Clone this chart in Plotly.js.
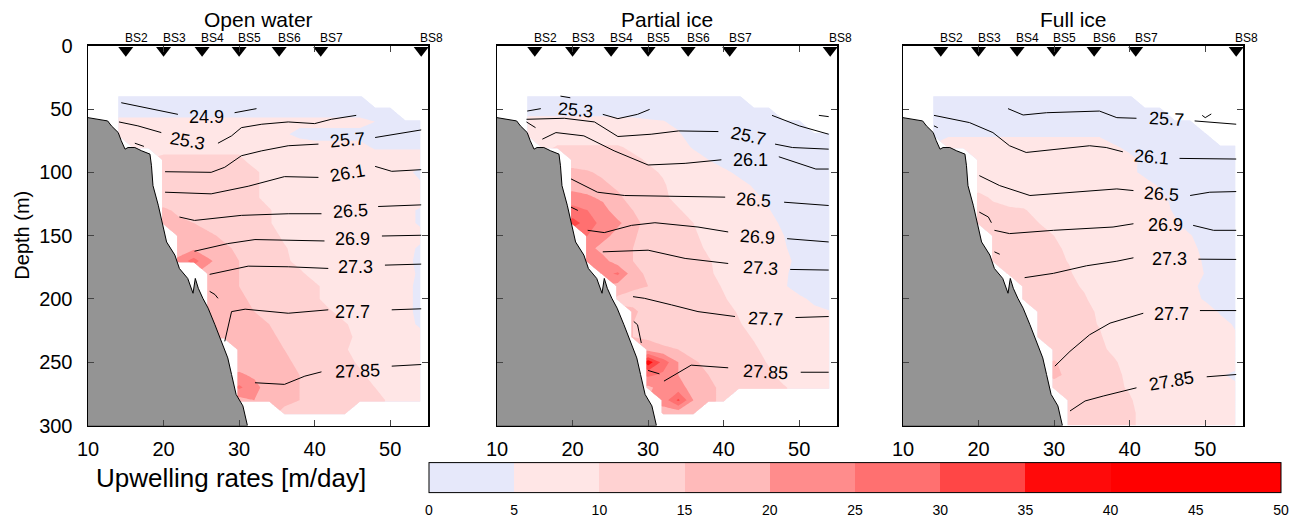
<!DOCTYPE html>
<html><head><meta charset="utf-8">
<script src="https://cdn.plot.ly/plotly-3.0.1.min.js"></script>
<style>html,body{margin:0;padding:0;background:#fff}#chart{width:1297px;height:520px}</style>
</head><body><div id="chart"></div><script>
const N = null;
const panelTitles = ['Open water', 'Partial ice', 'Full ice'];
const stationNames = ['BS2','BS3','BS4','BS5','BS6','BS7','BS8'];
const stationX = [15, 20, 25.1, 30, 35.3, 40.8, 54.1];
const levelTicks = [0,5,10,15,20,25,30,35,40,45,50];
const levelColors = ['rgb(230,232,250)','rgb(255,230,230)','rgb(255,210,210)','rgb(255,186,186)','rgb(255,140,140)','rgb(255,112,112)','rgb(255,70,70)','rgb(255,10,10)','rgb(255,0,0)','rgb(255,0,0)'];
const xGrid = [14,16,18,20,22,24,26,28,30,32,34,36,38,40,42,44,46,48,50,52,54];
const depthGrid = [40,50,60,70,80,90,100,110,120,130,140,150,160,170,180,190,200,210,220,230,240,250,260,270,280,290,300];

const upOpen = [
[3,3,3,3,3,3,3,3,3,3,3,3,3,3,3,3,3,N,N,N,N],
[3,3,3,3,3,3,3,3,3,3,3,3,3,3,3,3,3,3,3,N,N],
[6,6,6,6,6,6,6,6,6,6,6,6,6,6,6,6,6,5,3,3,3],
[7,7,7,7,7,7,7,7,7,7,7,5.5,4,4,4,4,4,3.5,3.5,3.5,3.5],
[N,7,8.5,8.5,8.5,8.5,8.5,8.5,8.5,7,7,7,7,6,6,6,6,4.5,4.5,4.5,4.5],
[N,N,N,11,11,11,11,11,11,8,7,7,7,7,7,7,7,7,7,7,7],
[N,N,N,12,12,12,12,12,12,11,8,7,7,7,7,7,7,7,7,6,4],
[N,N,N,14,12,12,12,12,12,11,8,7,7,7,7,7,7,7,7,6,5.5],
[N,N,N,12,12,12,12,12,12,11,8,7,7,7,7,7,7,7,7,7,7],
[N,N,N,16,14,12,12,12,12,12,10.5,7,7,7,7,7,7,7,7,6,4.5],
[N,N,N,16,16,15,13,12,12,12,10.5,7,7,7,7,7,7,7,7,6,4.5],
[N,N,N,N,17,17,16,14,12,12,12,9,7,7,7,7,7,7,7,7,6],
[N,N,N,N,16,19,16,16,14,12,12,10.5,8,7,7,7,7,7,7,6,4.5],
[N,N,N,N,22,27,21,17,15,12,12,11,8.5,7,7,7,7,7,7,6,4],
[N,N,N,N,N,N,17,16,15,13,12,12,11,8,7,7,7,7,7,6,4.5],
[N,N,N,N,N,N,17,16,15,13,12,12,12,11,8,7,7,7,7,6,4],
[N,N,N,N,N,N,16,16,16,14,12,12,12,11,8,7,7,7,7,6,4],
[N,N,N,N,N,N,17,16,16,15,13,12,12,12,10.5,8,7,7,7,6,4],
[N,N,N,N,N,N,16,17,17,16,15,13,12,12,12,10.5,8,7,7,6,4.5],
[N,N,N,N,N,N,16,17,17,17,16,14,12,12,12,11,9,7,7,7,6],
[N,N,N,N,N,N,N,N,16,17,17,15,13,12,12,10.5,8,7,7,7,7],
[N,N,N,N,N,N,N,N,17,18,17,16,14,12,12,12,9,7,7,7,7],
[N,N,N,N,N,N,N,N,21,19,17,16,15,13,12,12,11,8,7,7,7],
[N,N,N,N,N,N,N,N,26,22,17,16,15,14,12,12,12,10,8,7,7],
[N,N,N,N,N,N,N,N,18,20,17,16,15,14,12,12,12,11,9.5,7,7],
[N,N,N,N,N,N,N,N,N,N,N,14,13,12,11,11,N,N,N,N,N],
[N,N,N,N,N,N,N,N,N,N,N,N,N,N,N,N,N,N,N,N,N]
];

const upPartial = [
[3,3,3,3,3,3,3,3,3,3,3,3,3,3,3,N,N,N,N,N,N],
[3,3,3,3,3,3,3,3,3,3,3,3,3,3,3,3,3,N,N,N,N],
[6.5,6.5,6.5,6.5,6.5,6.5,6,6,5.5,5.2,4,3,3,3,3,3,3,3,3,N,N],
[7,7,7,7,7,7,7,7,7,7,5.5,3,3,3,3,3,3,3,3,3,3],
[N,8,10.5,10.5,10.5,10.5,10.5,9,7,7,7,4.5,3,3,3,3,3,3,3,3,3],
[N,N,N,13,12,12,12,11,9.5,7,7,7,5,3,3,3,3,3,3,3,3],
[N,N,N,16,15.5,14,12,12,11,9.5,7,7,7,6,4,3,3,3,3,3,3],
[N,N,N,18,17,16,14,12,12,10.5,8,7,7,7,6.5,4.5,3,3,3,3,3],
[N,N,N,22,21,19,16,13,12,11,8.5,7,7,7,7,6,4,3,3,3,3],
[N,N,N,27,25,22,17,15,12,12,10.5,8,7,7,7,7,5.2,3,3,3,3],
[N,N,N,32,28,23,21,17,13,12,11,10,7,7,7,7,6.5,4,3,3,3],
[N,N,N,N,25,22,18,16,12,12,12,11,8,7,7,7,7,5,3,3,3],
[N,N,N,N,22,18,16,15,12,12,12,12,9,7,7,7,7,5.5,3,3,3],
[N,N,N,N,23,22,17,15,13,12,12,12,10.5,8,7,7,7,6,4,3,3],
[N,N,N,N,N,23,26,17,14,12,12,12,11,8,7,7,7,5.8,3,3,3],
[N,N,N,N,N,N,18,16,15,12,12,12,12,9.5,7,7,7,5.5,3,3,3],
[N,N,N,N,N,N,14,13,12,12,12,12,12,10.5,8,7,7,7,6,4,3],
[N,N,N,N,N,N,N,16,13,12,12,12,12,12,9.5,7,7,7,7,6,5.2],
[N,N,N,N,N,N,N,15,13,12,12,12,12,12,10.5,8,7,7,7,7,7],
[N,N,N,N,N,N,N,15,14,13,12,12,12,12,12,9.5,7,7,7,7,7],
[N,N,N,N,N,N,N,N,18,16,15,12,12,12,12,11,8,7,7,7,7],
[N,N,N,N,N,N,N,N,38,28,20,16,13,12,12,12,9.5,7,7,7,7],
[N,N,N,N,N,N,N,N,26,24,20,17,15,12,12,12,11,8,7,7,7],
[N,N,N,N,N,N,N,N,19,22,22,18,16,14,12,12,12,10.5,8,7,7],
[N,N,N,N,N,N,N,N,N,22,31,20,16,14,N,N,N,N,N,N,N],
[N,N,N,N,N,N,N,N,N,18,17,16,N,N,N,N,N,N,N,N,N],
[N,N,N,N,N,N,N,N,N,N,N,N,N,N,N,N,N,N,N,N,N]
];

const upFull = [
[3,3,3,3,3,3,3,3,3,3,3,3,3,3,N,N,N,N,N,N,N],
[3,3,3,3,3,3,3,3,3,3,3,3,3,3,3,3,N,N,N,N,N],
[3,3,3,3,3,3,3,3,3,3,3,3,3,3,3,3,3,3,N,N,N],
[3,4.5,4.5,4.5,4.5,4.5,4.5,4.5,4.5,4.5,4.5,4.5,3,3,3,3,3,3,3,N,N],
[N,7,7,7,7,7,7,7,7,7,7,7,5.5,4,3,3,3,3,3,3,3],
[N,N,N,7,7,7,7,7,7,7,7,7,7,6,4,3,3,3,3,3,3],
[N,N,N,7,7,7,7,7,7,7,7,7,7,6,4,3,3,3,3,3,3],
[N,N,N,8.5,7.5,7,7,7,7,7,7,7,7,7,6.5,4.5,3,3,3,3,3],
[N,N,N,11,9.5,7.5,7,7,7,7,7,7,7,7,7,6,4,3,3,3,3],
[N,N,N,11,11,11,10.5,8,7,7,7,7,7,7,7,6.5,4.5,3,3,3,3],
[N,N,N,12,12,11,11,10,7,7,7,7,7,7,7,7,5.5,3,3,3,3],
[N,N,N,N,12,12,12,11,10,7.5,7,7,7,7,7,7,7,5.3,3,3,3],
[N,N,N,N,12,12,12,12,11,9,7,7,7,7,7,7,7,6,4,3,3],
[N,N,N,N,12,12,12,12,11,9.8,7,7,7,7,7,7,7,6.5,4.5,3,3],
[N,N,N,N,N,12,12,12,12,10.5,8,7,7,7,7,7,7,7,4.8,3,3],
[N,N,N,N,N,N,12,12,12,11,9.5,7,7,7,7,7,7,6,4,3,3],
[N,N,N,N,N,N,12,12,12,12,10.5,8,7,7,7,7,7,6.5,4.5,3,3],
[N,N,N,N,N,N,N,12,12,12,11,9.5,7,7,7,7,7,7,7,4.5,3],
[N,N,N,N,N,N,N,12,12,12,11,9.8,7,7,7,7,7,7,7,6.5,4.5],
[N,N,N,N,N,N,N,12,12,12,12,10.5,8,7,7,7,7,7,7,7,5.5],
[N,N,N,N,N,N,N,N,12,12,12,11,9,7,7,7,7,7,7,7,7],
[N,N,N,N,N,N,N,N,15.5,13,12,12,10.5,8,7,7,7,7,7,7,7],
[N,N,N,N,N,N,N,N,16,14,12,12,11,9,7,7,7,7,7,5.5,4],
[N,N,N,N,N,N,N,N,13,12,12,12,11,9.5,7,7,7,7,7,7,6],
[N,N,N,N,N,N,N,N,N,12,12,12,12,10.5,8,7,7,7,7,7,7],
[N,N,N,N,N,N,N,N,N,12,12,12,12,11,8.5,7,7,7,7,7,7],
[N,N,N,N,N,N,N,N,N,12,12,12,12,11,8.5,7,7,7,7,7,7]
];

const bathyX = [10,11.3,12.6,13.1,14,14.4,14.9,15.3,16.2,17.1,18.2,18.4,18.6,19.3,19.7,20.4,21.5,22.1,23.2,23.9,24.2,24.6,25.2,25.9,26.8,27.7,28.5,29,29.6,30.5,31.1,10];
const bathyD = [56.8,58,59.4,63.3,68.6,75,81.7,80.4,80.4,83,85.6,94.8,110.5,126,136.6,155,165.4,176,183.8,195.5,183.8,191.6,199.5,207.3,220.4,233.5,246.6,259.7,275.4,284.5,300,300];

// isopycnal lines (sigma-theta), pieces separated by null
const isoOpenX = [14.4,17.5,21.9,N,29.4,32.3,N, 14.1,16.6,19.7,N,27.2,29,30.3,33,36.5,40,42.2,45.5,N, 16.2,17.4,N,
 20.2,26.3,28.1,30.3,33,36.5,40.5,N,48,54.1,N, 20.2,26.3,31.2,36,40.5,N,48,50.2,54.1,N,
 22.1,24.1,30.3,36.5,40.9,N,48.4,54.1,N, 24.1,28.5,32.1,36.5,41.3,N,48.9,54.1,N,
 26.1,29,31.2,36.5,41.8,N,49.3,54.1,N, 26.1,26.8,27.2,N,
 28.1,28.5,29,30.8,36.5,41.8,N,50.2,54.1,N, 32.1,36,38.7,40.9,N,50.2,54.1];
const isoOpenD = [45,49,54.2,N,52.9,49.7,N, 60.2,63.3,68.6,N,77,71.2,64.7,62,60.2,61.5,58.1,55,N, 77,79.5,N,
 99.5,100,96,86.9,83,79,77.7,N,72.5,66.5,N, 115.7,117,111,103.4,104,N,95.3,99.2,97.9,N,
 135.3,138,134,132.7,132.7,N,127,125.7,N, 162.3,156.3,153.1,153.7,154.2,N,150.3,149.7,N,
 180.6,177.2,174.1,174.6,175.9,N,173.3,172.5,N, 194,196.5,199.5,N,
 233.5,223,210,208.1,211.3,208.6,N,208.6,207.8,N, 266.2,267.5,261,257.6,N,253.1,251.8];

const isoPartialX = [14,15.8,N,24,26,28.6,30.2,N,18.4,19.7,N,46.4,50,53.9,N,52.6,53.9,N,
 13.9,18.9,22.9,26,30.4,34,39.3,N,46.8,49.1,53.9,N,
 13.9,15.1,N,16,17.8,21.5,25.5,30,34.9,39.7,N,47.3,52.2,53.9,N,
 19.8,23.3,26.9,32.2,40.2,N,48,53.9,N,
 19.8,20.7,N,22,24.2,27.8,30.9,36.6,40.6,N,48.4,53.9,N,
 24,30,34.9,40.6,N,48.8,53.9,N,
 28,29.5,33.1,36.6,41.5,N,49.5,53.9,N,28.1,28.6,29.1,N,
 30,31.5,N,32.1,34,35.7,40.6,N,50.2,53.9];
const isoPartialD = [51.6,49.7,N,54.2,57.6,54.2,50.3,N,39.8,41.1,N,55,63.3,69.9,N,55,56,N,
 58.1,57.3,60.2,71.7,69.9,67.3,67.8,N,77.7,80.4,81.7,N,
 60.2,64.7,N,73.8,68.6,71.2,83,94.2,92.9,90.1,N,87.7,97.4,97.4,N,
 105.2,115.7,118.3,118.8,119.6,N,123.6,126.2,N,
 127.5,130.1,N,145.8,147.6,141.9,139.8,143.2,147.1,N,152.4,155,N,
 162.8,161.5,168,172,N,176.7,177.2,N,
 198.2,199.5,204.7,210,213.9,N,214.7,213.9,N,217.8,220.4,234.8,N,
 256.5,259.2,N,264.9,258.4,252.3,254.4,N,257.9,257.9];

const isoFullX = [23.9,25.9,29,36,38.3,40.9,N,48.6,54.1,N,49.6,50,50.8,N,
 14.1,18.8,21.9,24.1,26.3,30.3,34.7,36.9,39.1,N,46.6,54.1,N,14.1,14.6,N,
 20.1,22.8,26.8,32.1,38.3,40.5,N,48,50.6,54.1,N,
 20.1,21.3,21.7,N,22.1,24.1,29.9,37.8,40.5,N,48.4,51.1,54.1,N,
 22.1,22.8,N,26.1,29.9,34.3,38.3,40.5,N,49.1,54.1,N,
 30.1,32.1,34.7,37.4,41.8,N,49.3,54.1,N,
 32.1,34.1,36.5,40.9,N,50.2,54.1];
const isoFullD = [49.7,54.7,52.9,51.6,56.8,57.3,N,59.4,62,N,55,56.8,53.9,N,
 55,60.7,68.6,79,84.3,81.7,79,80.4,83.8,N,89,89.5,N,63.3,64.7,N,
 102.6,110.5,118.3,115.7,113.1,114.4,N,118.3,115.7,115.2,N,
 131.4,135.3,139.8,N,145.8,148.4,145.8,143.2,140.6,N,141.9,145.8,145.8,N,
 162.8,164.7,N,183.2,179.8,173.8,170.2,167.5,N,168.6,168.8,N,
 253.1,241.4,228.3,219.1,211.3,N,209.2,209.2,N,
 288.5,280.6,276.7,270.2,N,261.5,259.7];

// contour labels
const labOpenText = ['24.9','25.3','25.7','26.1','26.5','26.9','27.3','27.7','27.85'];
const labOpenX = [25.7,23.2,44.3,44.4,44.7,45.0,45.4,45.0,45.7];
const labOpenD = [56.0,75.1,74.6,100.5,130.6,152.9,175.1,210,257];
const labOpenAngle = [0,10,-5,-10,-3,0,0,0,-2];
const labPartialText = ['25.3','25.7','26.1','26.5','26.9','27.3','27.7','27.85'];
const labPartialX = [20.4,43.3,43.5,44.0,44.5,44.9,45.6,45.5];
const labPartialD = [50.8,71.2,90.3,122.2,151,175.9,215.7,257.6];
const labPartialAngle = [5,12,0,4,4,3,3,3];
const labFullText = ['25.7','26.1','26.5','26.9','27.3','27.7','27.85'];
const labFullX = [44.9,42.9,44.2,44.7,45.3,45.6,45.5];
const labFullD = [58.1,88.2,117,141.9,168.6,211.8,264.9];
const labFullAngle = [3,5,4,0,0,0,-10];

// ---------- build ----------
const FONT = 'Liberation Sans, Arial, Helvetica, sans-serif';
const nBands = levelColors.length;
// contour fill scale: plotly maps fraction f -> value (f*11-0.5)*5 ; band k midpoint sits at f=(k+1)/11
const contourScale = [];
for (let k = 0; k < nBands; k++) {
  const lo = k === 0 ? 0 : (k + 0.5) / 11;
  const hi = k === nBands - 1 ? 1 : (k + 1.5) / 11;
  contourScale.push([lo, levelColors[k]]);
  contourScale.push([hi, levelColors[k]]);
}
// colour bar scale (linear 0..50, stepped)
const barScale = [];
for (let k = 0; k < nBands; k++) {
  barScale.push([k / nBands, levelColors[k]]);
  barScale.push([(k + 1) / nBands, levelColors[k]]);
}

const fields = [upOpen, upPartial, upFull];
const isoX = [isoOpenX, isoPartialX, isoFullX];
const isoD = [isoOpenD, isoPartialD, isoFullD];
const labT = [labOpenText, labPartialText, labFullText];
const labX = [labOpenX, labPartialX, labFullX];
const labD = [labOpenD, labPartialD, labFullD];
const labA = [labOpenAngle, labPartialAngle, labFullAngle];

const W = 1297, H = 520;
const panelLeft = [88, 497, 903], panelW = 340;
const plotTop = 46, plotBottom = 428;
const traces = [];
const annotations = [];
const layout = {
  width: W, height: H, margin: {l:0, r:0, t:0, b:0},
  paper_bgcolor: '#fff', plot_bgcolor: '#fff',
  font: {family: FONT, color: '#000'},
  showlegend: false
};

for (let p = 0; p < 3; p++) {
  const sx = p === 0 ? '' : String(p + 1);
  const xa = 'x' + sx, ya = 'y' + sx;
  layout['xaxis' + sx] = {
    domain: [panelLeft[p] / W, (panelLeft[p] + panelW) / W], anchor: ya,
    range: [10, 55], tickvals: [10,20,30,40,50], ticks: 'inside', ticklen: 6, tickwidth: 1,
    mirror: 'ticks', showline: true, linecolor: '#000', linewidth: 1.5, showgrid: false, zeroline: false,
    tickfont: {size: 20, family: FONT}, ticklabelstandoff: 5
  };
  layout['yaxis' + sx] = {
    domain: [1 - plotBottom / H, 1 - plotTop / H], anchor: xa,
    range: [300, 0], tickvals: [0,50,100,150,200,250,300], ticks: 'inside', ticklen: 6, tickwidth: 1,
    mirror: 'ticks', showline: true, linecolor: '#000', linewidth: 1.5, showgrid: false, zeroline: false,
    showticklabels: p === 0, tickfont: {size: 20, family: FONT}, ticklabelstandoff: 10
  };
  traces.push({
    type: 'contour', x: xGrid, y: depthGrid, z: fields[p], xaxis: xa, yaxis: ya,
    autocontour: false, contours: {start: 0, end: 50, size: 5, coloring: 'fill', showlines: false},
    line: {width: 0, smoothing: 0}, colorscale: contourScale, connectgaps: false, hoverinfo: 'skip',
    showscale: false
  });
  traces.push({
    type: 'scatter', mode: 'lines', x: bathyX, y: bathyD, xaxis: xa, yaxis: ya, fill: 'toself',
    fillcolor: 'rgb(148,148,148)', line: {color: '#000', width: 1}, hoverinfo: 'skip'
  });
  traces.push({
    type: 'scatter', mode: 'lines', x: isoX[p], y: isoD[p], xaxis: xa, yaxis: ya,
    line: {color: '#000', width: 1}, connectgaps: false, hoverinfo: 'skip'
  });
  traces.push({
    type: 'scatter', mode: 'markers', x: stationX, y: stationX.map(() => 3.6), xaxis: xa, yaxis: ya,
    marker: {symbol: 'triangle-down', size: 13, color: '#000'}, cliponaxis: false, hoverinfo: 'skip'
  });
  stationNames.forEach((s, i) => annotations.push({
    xref: xa, yref: ya, x: stationX[i], y: 0, text: s, showarrow: false,
    xanchor: 'left', yanchor: 'bottom', xshift: -3, yshift: -1, font: {size: 12, family: FONT}
  }));
  labT[p].forEach((t, i) => annotations.push({
    xref: xa, yref: ya, x: labX[p][i], y: labD[p][i], text: t, showarrow: false,
    textangle: labA[p][i], font: {size: 18, family: FONT}
  }));
  annotations.push({
    xref: 'paper', yref: 'paper', x: (panelLeft[p] + panelW / 2) / W, y: 1 - 20 / H, text: panelTitles[p],
    showarrow: false, xanchor: 'center', yanchor: 'middle', font: {size: 21, family: FONT}
  });
}
// colour bar carrier: a two-cell heatmap spanning the level range, placed outside the visible axis range
const barLo = levelTicks[0], barHi = levelTicks[levelTicks.length - 1];
traces.push({
  type: 'heatmap', x: [-100, -90], y: [-100], z: [[barLo, barHi]], xaxis: 'x', yaxis: 'y',
  zmin: barLo, zmax: barHi, colorscale: barScale, hoverinfo: 'skip',
  showscale: true,
  colorbar: {orientation: 'h', x: (429 + 1281) / 2 / W, xanchor: 'center', y: 1 - 494 / H, yanchor: 'middle',
    len: 852, lenmode: 'pixels', thickness: 30, thicknessmode: 'pixels', outlinewidth: 1, outlinecolor: '#000',
    tickvals: levelTicks, ticks: 'outside', ticklen: 6, tickcolor: 'rgba(0,0,0,0)',
    tickfont: {size: 14, family: FONT}, xpad: 0, ypad: 0}
});
annotations.push({xref: 'paper', yref: 'paper', x: 22 / W, y: 1 - 237 / H, text: 'Depth (m)', textangle: -90,
  showarrow: false, xanchor: 'center', yanchor: 'middle', font: {size: 20, family: FONT}});
annotations.push({xref: 'paper', yref: 'paper', x: 231 / W, y: 1 - 481 / H, text: 'Upwelling rates [m/day]',
  showarrow: false, xanchor: 'center', yanchor: 'middle', font: {size: 26, family: FONT}});
layout.annotations = annotations;

Plotly.newPlot('chart', traces, layout, {staticPlot: true, displayModeBar: false});
</script></body></html>
